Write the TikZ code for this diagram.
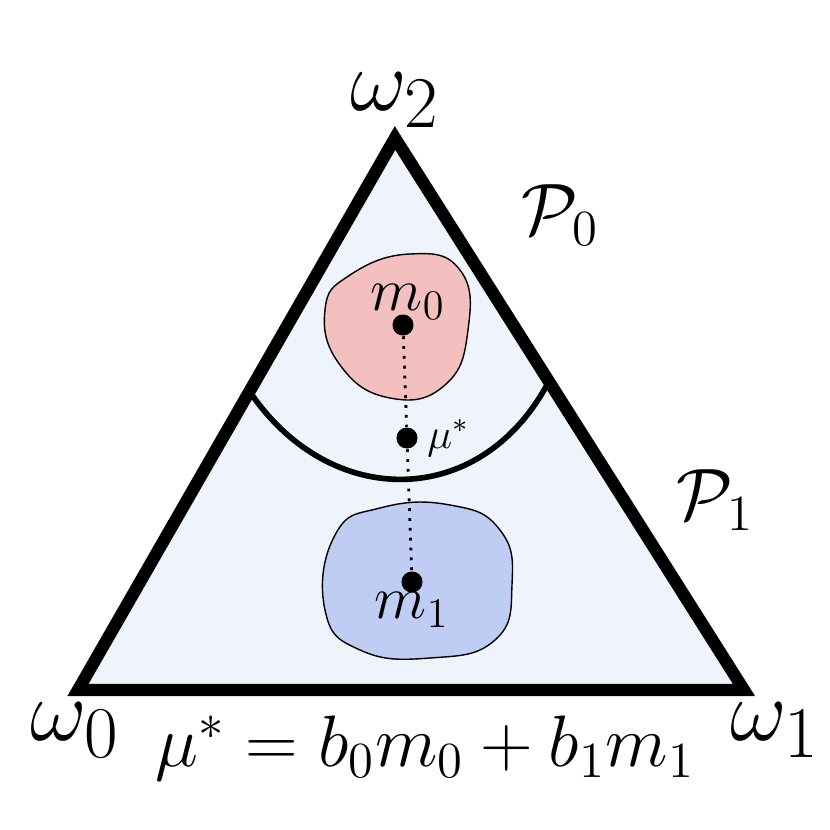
\documentclass[tikz,border=0pt]{standalone}
\usepackage{amsmath}
\definecolor{simplexfill}{HTML}{EEF3FC}
\definecolor{redblob}{HTML}{F4BFBF}
\definecolor{blueblob}{HTML}{BFCCF4}
\tikzset{
  vlabel/.style={font=\Huge},
  plabel/.style={font=\huge},
  mdot/.style={circle,fill=black,inner sep=0pt,minimum size=6pt},
}
\begin{document}
\begin{tikzpicture}
\useasboundingbox (0,0) rectangle (8.3,8.3);

% Simplex
\coordinate (w0) at (0.78,1.4);
\coordinate (w1) at (7.44,1.4);
\coordinate (w2) at (3.95,6.92);
\draw[line width=3.5pt,line join=miter,fill=simplexfill] (w0) -- (w1) -- (w2) -- cycle;

% Partition boundary
\draw[line width=1.6pt] (2.5,4.38) .. controls (3.3,3.2) and (4.8,3.2) .. (5.48,4.47);

% Blobs
\draw[thin,fill=redblob] plot[smooth cycle,tension=0.8] coordinates
  {(3.25,5.2) (3.5,5.55) (4.1,5.76) (4.6,5.6) (4.68,5.0) (4.45,4.45) (3.9,4.32) (3.4,4.65)};
\draw[thin,fill=blueblob] plot[smooth cycle,tension=0.8] coordinates
  {(3.35,2.95) (3.8,3.22) (4.5,3.25) (5.0,3.0) (5.12,2.45) (4.95,1.9) (4.3,1.72) (3.6,1.8) (3.25,2.2)};

% Points
\node[mdot] (m0) at (4.03,5.05) {};
\node[mdot] (mu) at (4.07,3.92) {};
\node[mdot] (m1) at (4.12,2.48) {};
\draw[dotted,thick] (m0) -- (mu) -- (m1);

% Labels
\node[font=\LARGE] at (4.08,5.28) {$m_0$};
\node[font=\LARGE] at (4.12,2.2) {$m_1$};
\node[font=\large,right] at (4.15,3.92) {$\mu^*$};
\node[vlabel] at (0.75,1.0) {$\omega_0$};
\node[vlabel] at (7.75,1.0) {$\omega_1$};
\node[vlabel] at (3.95,7.3) {$\omega_2$};
\node[plabel] at (5.6,6.15) {$\mathcal{P}_0$};
\node[plabel] at (7.15,3.3) {$\mathcal{P}_1$};
\node[font=\huge] at (4.25,0.82) {$\mu^* = b_0 m_0 + b_1 m_1$};
\end{tikzpicture}
\end{document}
